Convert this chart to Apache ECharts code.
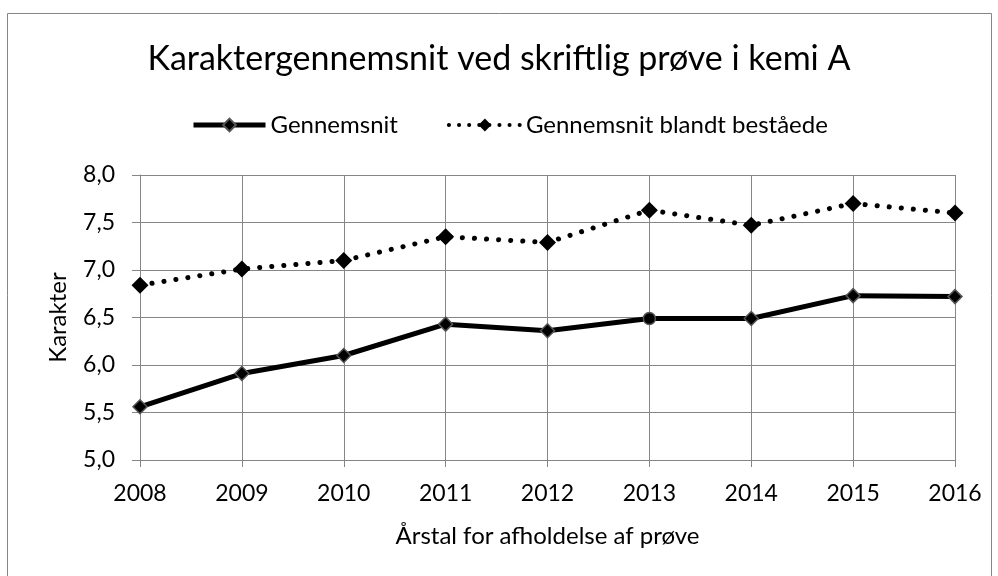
<!DOCTYPE html>
<html>
<head>
<meta charset="utf-8">
<script src="https://cdn.jsdelivr.net/npm/echarts@6/dist/echarts.min.js"></script>
<style>
  html, body { margin: 0; padding: 0; background: #fff; }
  #chart { width: 998px; height: 576px; }
</style>
</head>
<body>
<div id="chart"></div>
<script>
// data
const years = ['2008', '2009', '2010', '2011', '2012', '2013', '2014', '2015', '2016'];
const gennemsnit = [5.56, 5.91, 6.10, 6.43, 6.36, 6.49, 6.49, 6.73, 6.72];
const bestaaede = [6.84, 7.01, 7.10, 7.35, 7.29, 7.63, 7.47, 7.70, 7.60];

const font = 'Lato, "Open Sans", sans-serif';
const gray = '#868686';
const dots = [0.1, 12];

const chart = echarts.init(document.getElementById('chart'));

chart.setOption({
    animation: false,
    backgroundColor: '#fff',
    title: {
        text: 'Karaktergennemsnit ved skriftlig prøve i kemi A',
        left: 'center',
        top: 37,
        textStyle: { fontFamily: font, fontSize: 34, fontWeight: 'normal', color: '#000' }
    },
    legend: {
        top: 108,
        left: 186,
        itemWidth: 72,
        itemHeight: 16,
        itemGap: 49,
        textStyle: { fontFamily: font, fontSize: 24, color: '#000' },
        data: [
            { name: 'Gennemsnit', lineStyle: { width: 5 } },
            { name: 'Gennemsnit blandt beståede', lineStyle: { width: 4, type: [0.1, 10], cap: 'round' } }
        ]
    },
    graphic: [{
        type: 'rect',
        shape: { x: 7.5, y: 13.5, width: 984, height: 600 },
        style: { fill: 'none', stroke: gray, lineWidth: 1 },
        silent: true
    }],
    grid: { left: 140, right: 43, top: 175, bottom: 116 },
    xAxis: {
        type: 'category',
        boundaryGap: false,
        data: years,
        name: 'Årstal for afholdelse af prøve',
        nameLocation: 'middle',
        nameGap: 64,
        nameTextStyle: { fontFamily: font, fontSize: 24, color: '#000' },
        axisLine: { lineStyle: { color: gray } },
        axisTick: { show: true, length: 7, lineStyle: { color: gray } },
        axisLabel: { fontFamily: font, fontSize: 23, color: '#000', margin: 22 },
        splitLine: { show: true, lineStyle: { color: gray, width: 1 } }
    },
    yAxis: {
        type: 'value',
        min: 5,
        max: 8,
        interval: 0.5,
        name: 'Karakter',
        nameLocation: 'middle',
        nameGap: 70,
        nameTextStyle: { fontFamily: font, fontSize: 24, color: '#000' },
        axisLine: { show: true, lineStyle: { color: gray } },
        axisTick: { show: true, length: 8, lineStyle: { color: gray } },
        axisLabel: {
            fontFamily: font, fontSize: 23, color: '#000', margin: 25,
            formatter: v => v.toFixed(1).replace('.', ',')
        },
        splitLine: { show: true, lineStyle: { color: gray, width: 1 } }
    },
    series: [
        {
            name: 'Gennemsnit',
            type: 'line',
            data: gennemsnit.map((v, i) => i === 5 ? { value: v, symbol: 'circle', symbolSize: 12 } : v),
            symbol: 'diamond',
            symbolSize: 14,
            itemStyle: { color: '#000', borderColor: '#555', borderWidth: 1.5 },
            lineStyle: { color: '#000', width: 5 },
            z: 3
        },
        {
            name: 'Gennemsnit blandt beståede',
            type: 'line',
            data: bestaaede,
            symbol: 'diamond',
            symbolSize: 17,
            itemStyle: { color: '#000', borderColor: '#000', borderWidth: 0 },
            lineStyle: { color: '#000', width: 5, type: dots, cap: 'round' },
            z: 2
        }
    ]
});
</script>
</body>
</html>
